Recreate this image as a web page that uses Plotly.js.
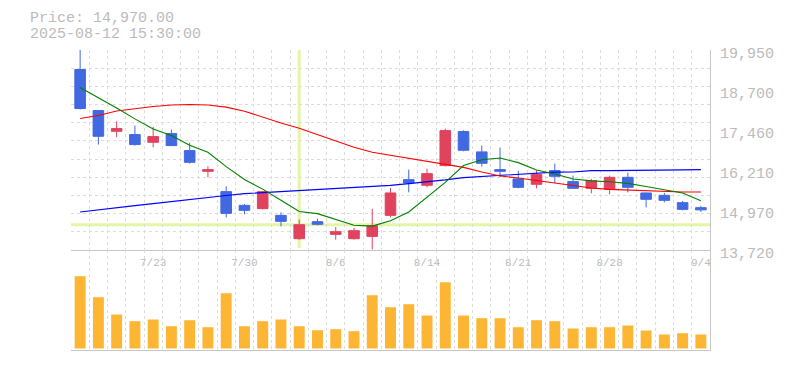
<!DOCTYPE html>
<html>
<head>
<meta charset="utf-8">
<script src="https://cdn.plot.ly/plotly-3.0.1.min.js"></script>
<style>
html, body { margin: 0; padding: 0; background: #fff; }
#chart { width: 785px; height: 370px; }
</style>
</head>
<body>
<div id="chart"></div>
<script>
// Trading days (2025)
const dates = ['7/16','7/17','7/18','7/22','7/23','7/24','7/25','7/28','7/29','7/30',
  '7/31','8/1','8/4','8/5','8/6','8/7','8/8','8/12','8/13','8/14',
  '8/15','8/18','8/19','8/20','8/21','8/22','8/25','8/26','8/27','8/28',
  '8/29','9/1','9/2','9/3','9/4'];
const tickDates = ['7/23','7/30','8/6','8/14','8/21','8/28','9/4'];

const openP  = [19342,18064,17418,17315,17075,17346,16816,16171,15538,15111,
  15008,14799,14072,14603,14207,14072,14144,14799,15912,15735,
  16349,17409,16776,16224,15934,15766,16193,15850,15641,15610,
  15984,15497,15423,15195,15039];
const highP  = [19950,18080,17730,17596,17555,17471,17056,16327,15703,15154,
  15560,14893,14665,14696,14437,14406,14999,15653,16224,16255,
  17502,17449,16972,16910,16193,16202,16411,16037,15934,16037,
  16130,15510,15497,15248,15101];
const lowP   = [18095,17004,17231,16972,16919,16960,16411,15984,14737,14830,
  14986,14456,14041,14487,14041,14041,13740,14737,15516,15672,
  16318,16794,16318,15996,15641,15641,15809,15622,15485,15454,
  15516,15048,15204,14955,14905];
const closeP = [18126,17262,17502,17004,17253,16972,16452,16224,14861,14955,
  15538,14612,14509,14519,14291,14322,14478,15497,15809,16099,
  17440,16826,16421,16171,15672,16068,16015,15641,15881,15984,
  15672,15298,15267,14986,14970];

// moving averages (short / mid / long)
const maShort = [18781,18469,18142,17805,17487,17284,16985,16766,16318,15915,
  15616,15267,14921,14852,14684,14493,14465,14634,14902,15357,
  15828,16349,16530,16586,16442,16212,16087,15931,15872,15844,
  15794,15700,15594,15494,15257];
const maMid = [17814,17908,18048,18120,18188,18235,18251,18235,18170,18045,
  17858,17674,17512,17315,17116,16922,16766,16673,16586,16483,
  16380,16293,16149,16024,15965,15887,15809,15728,15653,15607,
  15585,15563,15538,15529,15529];
const maLong = [14905,14977,15052,15102,15164,15232,15298,15360,15420,15476,
  15507,15547,15582,15613,15647,15685,15706,15734,15787,15837,
  15903,15975,16012,16037,16093,16121,16146,16152,16193,16193,
  16193,16193,16202,16215,16224];

// volume (thousand shares)
const volume = [723,513,340,273,290,223,283,213,553,223,
  273,290,223,183,193,173,533,413,443,330,
  663,330,303,303,213,283,273,200,213,213,
  230,180,140,153,140];

const priceTicks = [13720,14966,16212,17458,18704,19950];
const priceTickText = ['13,720','14,970','16,210','17,460','18,700','19,950'];

const cursorDate = '8/4';
const cursorPrice = 14509;

const MONO = 'Liberation Mono, DejaVu Sans Mono, monospace';
const LABEL = '#bbbbbb';
const GRID = '#dcdcdc';
const AXLINE = '#c6c6c6';

const traces = [
  {type:'scatter', mode:'lines', x:dates, y:maLong, xaxis:'x', yaxis:'y',
   line:{color:'#0000ff', width:1.1}, hoverinfo:'skip', showlegend:false},
  {type:'scatter', mode:'lines', x:dates, y:maMid, xaxis:'x', yaxis:'y',
   line:{color:'#ff0000', width:1.1}, hoverinfo:'skip', showlegend:false},
  {type:'scatter', mode:'lines', x:dates, y:maShort, xaxis:'x', yaxis:'y',
   line:{color:'#008000', width:1.1}, hoverinfo:'skip', showlegend:false},
  {type:'candlestick', x:dates, open:openP, high:highP, low:lowP, close:closeP,
   xaxis:'x', yaxis:'y', whiskerwidth:0,
   increasing:{line:{color:'#e0435e', width:1}, fillcolor:'#e0435e'},
   decreasing:{line:{color:'#4169e1', width:1}, fillcolor:'#4169e1'},
   hoverinfo:'skip', showlegend:false},
  {type:'bar', x:dates, y:volume, xaxis:'x2', yaxis:'y2',
   marker:{color:'#fdb634', line:{width:0}}, width:0.6,
   hoverinfo:'skip', showlegend:false},
  // carriers for the grid-only overlay axes
  {type:'scatter', mode:'markers', x:[null], y:[null], xaxis:'x3', yaxis:'y', hoverinfo:'skip', showlegend:false},
  {type:'scatter', mode:'markers', x:[null], y:[null], xaxis:'x4', yaxis:'y2', hoverinfo:'skip', showlegend:false},
  {type:'scatter', mode:'markers', x:[null], y:[null], xaxis:'x', yaxis:'y3', hoverinfo:'skip', showlegend:false}
];

const nBars = dates.length;
const gridAxis = (over, anchor) => ({
  overlaying: over, anchor: anchor, type:'linear',
  range:[-0.5, nBars - 0.5], tickmode:'linear', tick0:-0.5, dtick:1,
  showgrid:true, gridcolor:GRID, gridwidth:1, griddash:'3px,3px',
  showticklabels:false, ticks:'', showline:false, zeroline:false, fixedrange:true
});

const layout = {
  width:785, height:370,
  margin:{l:71, r:75, t:50, b:20, pad:0},
  paper_bgcolor:'#ffffff', plot_bgcolor:'rgba(0,0,0,0)',
  showlegend:false, hovermode:false, dragmode:false,
  boxgap:0.42,
  boxgroupgap:0,
  bargap:0.4,
  xaxis:{type:'category', domain:[0,1], anchor:'y', range:[-0.5, nBars - 0.5],
    rangeslider:{visible:false}, tickmode:'array', tickvals:tickDates, ticktext:tickDates,
    showgrid:false, ticks:'', showline:true, linecolor:AXLINE, linewidth:1,
    tickfont:{family:MONO, size:11, color:LABEL}, ticklabelstandoff:2,
    zeroline:false, fixedrange:true},
  xaxis2:{type:'category', domain:[0,1], anchor:'y2', matches:'x', range:[-0.5, nBars - 0.5],
    showgrid:false, showticklabels:false, ticks:'', showline:true, linecolor:AXLINE,
    linewidth:1, zeroline:false, fixedrange:true},
  xaxis3: gridAxis('x', 'y'),
  xaxis4: gridAxis('x2', 'y2'),
  yaxis:{domain:[1/3, 1], anchor:'x', side:'right', range:[13720, 19950],
    tickmode:'array', tickvals:priceTicks, ticktext:priceTickText,
    showgrid:false, ticks:'', showline:true, linecolor:AXLINE, linewidth:1,
    tickfont:{family:MONO, size:15, color:LABEL}, ticklabelstandoff:6,
    ticklabelshift:3, zeroline:false, fixedrange:true},
  yaxis2:{domain:[0, 1/3], anchor:'x2', side:'right', range:[-15, 985],
    showgrid:false, showticklabels:false, ticks:'', showline:true,
    linecolor:AXLINE, linewidth:1, zeroline:false, fixedrange:true},
  yaxis3:{overlaying:'y', anchor:'x', side:'left', range:[0, 11], tickmode:'linear',
    tick0:0, dtick:1, showgrid:true, gridcolor:GRID, gridwidth:1, griddash:'3px,3px',
    showticklabels:false, ticks:'', showline:false, zeroline:false, fixedrange:true},
  shapes:[
    {type:'line', layer:'below', xref:'x', yref:'y domain', x0:cursorDate, x1:cursorDate,
     y0:0.01, y1:1, line:{color:'#e4f5a8', width:3}},
    {type:'line', layer:'below', xref:'x domain', yref:'y', x0:0, x1:1,
     y0:cursorPrice, y1:cursorPrice, line:{color:'#e4f5a8', width:3}}
  ],
  annotations:[
    {xref:'paper', yref:'paper', x:-0.068, y:1.105, xanchor:'left', yanchor:'middle',
     showarrow:false, text:'Price: 14,970.00', font:{family:MONO, size:15, color:LABEL}},
    {xref:'paper', yref:'paper', x:-0.068, y:1.052, xanchor:'left', yanchor:'middle',
     showarrow:false, text:'2025-08-12 15:30:00', font:{family:MONO, size:15, color:LABEL}}
  ]
};

Plotly.newPlot('chart', traces, layout, {staticPlot:true, displayModeBar:false});
</script>
</body>
</html>
